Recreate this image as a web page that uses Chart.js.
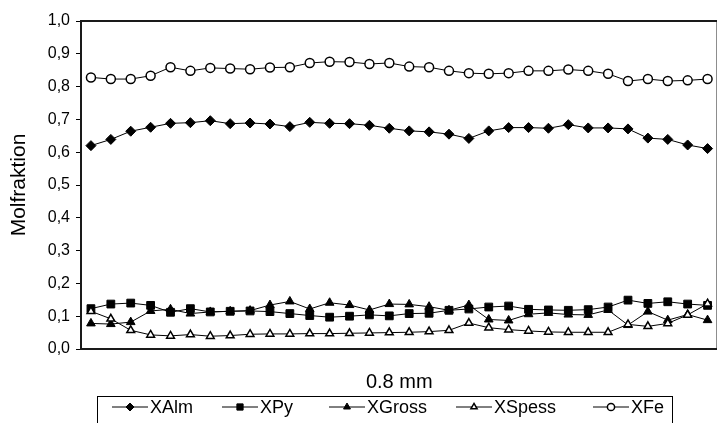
<!DOCTYPE html>
<html><head><meta charset="utf-8">
<script src="https://cdn.jsdelivr.net/npm/chart.js@4/dist/chart.umd.min.js"></script>
<style>html,body{margin:0;padding:0;background:#fff;overflow:hidden;width:717px;height:423px}canvas{display:block}</style>
</head><body><canvas id="c" width="724" height="423" style="width:724px;height:423px"></canvas>
<script>
const categories = ['1','2','3','4','5','6','7','8','9','10','11','12','13','14','15','16','17','18','19','20','21','22','23','24','25','26','27','28','29','30','31','32'];
const yTickLabels = ['0,0','0,1','0,2','0,3','0,4','0,5','0,6','0,7','0,8','0,9','1,0'];
const seriesNames = ['XAlm','XPy','XGross','XSpess','XFe'];
const xAlm = [0.620,0.639,0.664,0.676,0.688,0.690,0.696,0.687,0.689,0.686,0.678,0.691,0.688,0.687,0.682,0.673,0.665,0.662,0.655,0.642,0.665,0.675,0.675,0.673,0.684,0.674,0.674,0.671,0.643,0.639,0.622,0.611];
const xPy = [0.123,0.137,0.140,0.133,0.112,0.123,0.113,0.115,0.116,0.114,0.108,0.102,0.097,0.100,0.104,0.101,0.108,0.109,0.118,0.122,0.128,0.131,0.121,0.119,0.118,0.120,0.128,0.149,0.139,0.144,0.137,0.133];
const xGross = [0.078,0.076,0.082,0.116,0.121,0.108,0.113,0.115,0.117,0.134,0.145,0.122,0.141,0.134,0.119,0.137,0.136,0.129,0.118,0.134,0.090,0.087,0.106,0.110,0.105,0.104,0.119,0.073,0.114,0.088,0.105,0.088];
const xSpess = [0.115,0.092,0.057,0.043,0.040,0.044,0.039,0.041,0.045,0.046,0.046,0.047,0.047,0.048,0.049,0.050,0.051,0.053,0.057,0.079,0.065,0.059,0.055,0.052,0.051,0.051,0.051,0.075,0.069,0.078,0.104,0.138];
const xFe = [0.828,0.823,0.823,0.833,0.859,0.848,0.857,0.855,0.853,0.858,0.859,0.872,0.876,0.875,0.869,0.872,0.861,0.859,0.848,0.841,0.839,0.841,0.848,0.848,0.852,0.848,0.839,0.817,0.823,0.817,0.819,0.823];

const FONT = '"Liberation Sans", Arial, sans-serif';
const mk = (label, data, style, radius, filled, order) => ({
  label, data, order,
  borderColor: '#000', borderWidth: 1,
  pointStyle: style, pointRadius: radius, pointHoverRadius: radius,
  pointBackgroundColor: filled ? '#000' : '#fff',
  pointBorderColor: '#000', pointBorderWidth: filled ? 1 : 1.5,
  tension: 0, fill: false
});

const frame = {
  id: 'frame',
  afterDatasetsDraw(chart) {
    const {ctx, chartArea: a} = chart;
    ctx.save();
    ctx.strokeStyle = '#1a1a1a'; ctx.lineWidth = 2;
    ctx.strokeRect(a.left, a.top, a.right - a.left, a.bottom - a.top);
    ctx.restore();
  }
};

const legendBox = {
  id: 'legendBox',
  afterDraw(chart) {
    const ctx = chart.ctx;
    const starts = [112, 222, 329, 456, 593];
    const lineLen = 36, cy = 407;
    ctx.save();
    ctx.strokeStyle = '#000'; ctx.lineWidth = 1;
    ctx.strokeRect(97.5, 396.5, 575, 40);
    ctx.font = '18px ' + FONT;
    ctx.textBaseline = 'middle'; ctx.fillStyle = '#000';
    chart.data.datasets.forEach((ds, i) => {
      const x0 = starts[i];
      ctx.beginPath(); ctx.moveTo(x0, cy); ctx.lineTo(x0 + lineLen, cy);
      ctx.strokeStyle = '#000'; ctx.lineWidth = 1; ctx.stroke();
      ctx.fillStyle = ds.pointBackgroundColor; ctx.strokeStyle = ds.pointBorderColor;
      ctx.lineWidth = ds.pointBorderWidth;
      Chart.helpers.drawPoint(ctx, {pointStyle: ds.pointStyle, rotation: 0, radius: ds.pointRadius * 0.8, borderWidth: ds.pointBorderWidth}, x0 + lineLen / 2, cy);
      ctx.fillStyle = '#000';
      ctx.fillText(ds.label, x0 + lineLen + 2, cy + 1);
    });
    ctx.restore();
  }
};

new Chart(document.getElementById('c'), {
  type: 'line',
  data: {
    labels: categories,
    datasets: [
      mk(seriesNames[0], xAlm, 'rectRot', 5, true, 5),
      mk(seriesNames[1], xPy, 'rect', 5.5, true, 4),
      mk(seriesNames[2], xGross, 'triangle', 5, true, 3),
      mk(seriesNames[3], xSpess, 'triangle', 4.5, false, 2),
      mk(seriesNames[4], xFe, 'circle', 4.5, false, 1)
    ]
  },
  options: {
    responsive: false, animation: false, devicePixelRatio: 1,
    layout: {padding: {left: 0, top: 21, right: 3, bottom: 29}},
    plugins: {legend: {display: false}, tooltip: {enabled: false}},
    scales: {
      x: {
        type: 'category', offset: true,
        grid: {display: false}, border: {display: false},
        ticks: {display: false},
        title: {display: true, text: '0.8 mm', color: '#000', font: {family: FONT, size: 20}, padding: {top: 0, bottom: 0}},
        afterFit(s) { s.height = 45; }
      },
      y: {
        min: 0, max: 1,
        border: {display: false},
        grid: {drawOnChartArea: false, drawTicks: true, tickLength: 5, color: '#000', tickColor: '#000'},
        ticks: {stepSize: 0.1, autoSkip: false, padding: 6, color: '#000', font: {family: FONT, size: 16},
          callback: (v, i) => yTickLabels[i]},
        title: {display: true, text: 'Molfraktion', color: '#000', font: {family: FONT, size: 21}, padding: {top: 7, bottom: 0}},
        afterFit(s) { s.width = 81; }
      }
    }
  },
  plugins: [frame, legendBox]
});
</script>
</body></html>
